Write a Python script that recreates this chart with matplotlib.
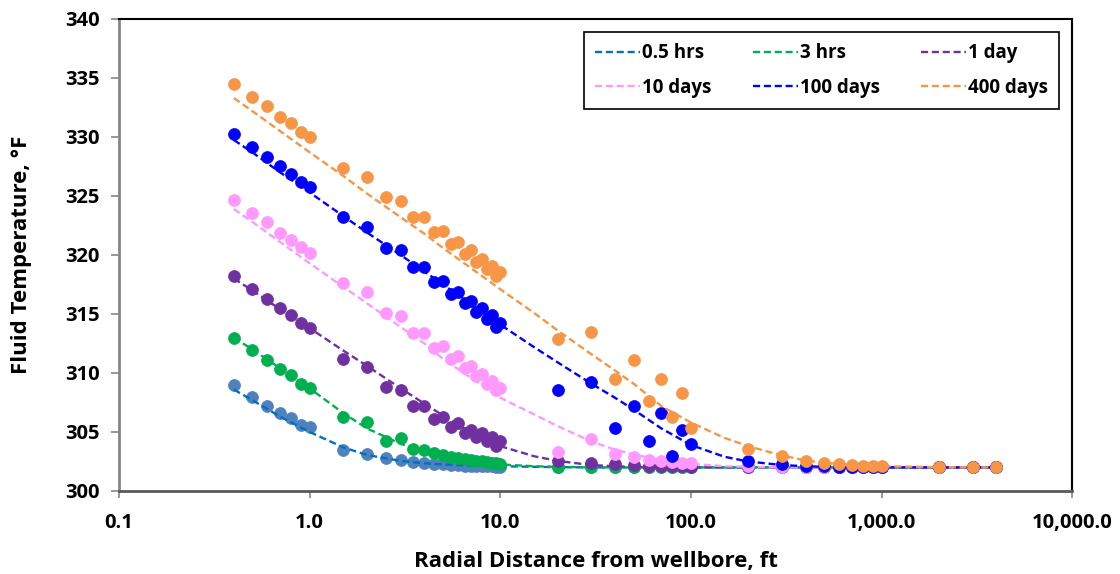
import matplotlib
matplotlib.use('Agg')
import matplotlib.pyplot as plt
from matplotlib.ticker import FixedLocator, FixedFormatter, NullLocator

plt.rcParams['font.family'] = ['Open Sans', 'DejaVu Sans']
plt.rcParams['font.weight'] = 'bold'

# Radial distance of measured points, ft
r = [0.4, 0.5, 0.6, 0.7, 0.8, 0.9, 1.0,
     1.5, 2.0, 2.5, 3.0, 3.5, 4.0, 4.5, 5.0, 5.5, 6.0, 6.5, 7.0, 7.5, 8.0, 8.5, 9.0, 9.5, 10.0,
     20, 30, 40, 50, 60, 70, 80, 90, 100,
     200, 300, 400, 500, 600, 700, 800, 900, 1000,
     2000, 3000, 4000]

# Measured fluid temperature, F
t_05h = [309.0, 307.95, 307.2, 306.6, 306.15, 305.6, 305.4,
         303.5, 303.1, 302.8, 302.6, 302.45, 302.35, 302.3, 302.25, 302.2, 302.18, 302.15, 302.13, 302.12,
         302.1, 302.1, 302.08, 302.07, 302.06,
         302.02, 302.01, 302.0, 302.0, 302.0, 302.0, 302.0, 302.0, 302.0,
         302.0, 302.0, 302.0, 302.0, 302.0, 302.0, 302.0, 302.0, 302.0,
         302.0, 302.0, 302.0]
t_3h = [313.0, 311.95, 311.1, 310.3, 309.8, 309.1, 308.7,
        306.3, 305.85, 304.25, 304.5, 303.6, 303.5, 303.2, 303.05, 302.9, 302.8, 302.7, 302.62, 302.55,
        302.5, 302.45, 302.4, 302.37, 302.33,
        302.05, 302.02, 302.0, 302.0, 302.0, 302.0, 302.0, 302.0, 302.0,
        302.0, 302.0, 302.0, 302.0, 302.0, 302.0, 302.0, 302.0, 302.0,
        302.0, 302.0, 302.0]
t_1d = [318.2, 317.1, 316.3, 315.5, 314.9, 314.2, 313.8,
        311.2, 310.5, 308.8, 308.6, 307.2, 307.2, 306.1, 306.3, 305.45, 305.8, 304.9, 305.2, 304.6,
        304.95, 304.2, 304.55, 303.8, 304.2,
        302.57, 302.35, 302.25, 302.2, 302.15, 302.12, 302.1, 302.08, 302.06,
        302.02, 302.0, 302.0, 302.0, 302.0, 302.0, 302.0, 302.0, 302.0,
        302.0, 302.0, 302.0]
t_10d = [324.7, 323.6, 322.8, 321.9, 321.3, 320.65, 320.2,
         317.6, 316.9, 315.05, 314.8, 313.4, 313.4, 312.15, 312.3, 311.2, 311.4, 310.45, 310.6, 309.75,
         309.9, 309.1, 309.3, 308.55, 308.7,
         303.3, 304.4, 303.1, 302.9, 302.65, 302.55, 302.45, 302.4, 302.35,
         302.1, 302.05, 302.03, 302.0, 302.0, 302.0, 302.0, 302.0, 302.0,
         302.0, 302.0, 302.0]
t_100d = [330.25, 329.15, 328.3, 327.5, 326.9, 326.2, 325.8,
          323.2, 322.4, 320.6, 320.4, 318.95, 319.0, 317.7, 317.8, 316.7, 316.9, 315.9, 316.1, 315.2,
          315.5, 314.55, 314.9, 313.9, 314.2,
          308.6, 309.25, 305.3, 307.2, 304.2, 306.6, 303.0, 305.2, 304.0,
          302.55, 302.25, 302.15, 302.1, 302.07, 302.05, 302.04, 302.03, 302.02,
          302.0, 302.0, 302.0]
t_400d = [334.5, 333.4, 332.6, 331.7, 331.2, 330.4, 330.0,
          327.4, 326.6, 324.9, 324.6, 323.2, 323.2, 321.95, 322.05, 320.9, 321.1, 320.1, 320.4, 319.4,
          319.7, 318.8, 319.1, 318.2, 318.6,
          312.85, 313.5, 309.5, 311.1, 307.6, 309.45, 306.25, 308.3, 305.3,
          303.6, 302.97, 302.57, 302.4, 302.3, 302.22, 302.15, 302.1, 302.08,
          302.02, 302.0, 302.0]

# Model curves (dashed lines)
r_fit = [0.4, 0.5, 0.7, 1, 1.5, 2, 3, 4, 5, 7, 10, 15, 20, 30, 40, 50, 70,
         100, 150, 200, 300, 400, 500, 700, 1000, 2000, 4000]
f_05h = [308.6, 307.7, 306.3, 305.0, 303.7, 303.05, 302.55, 302.35, 302.25, 302.15, 302.1, 302.05,
         302.02, 302.0, 302.0, 302.0, 302.0, 302.0, 302.0, 302.0, 302.0, 302.0, 302.0, 302.0, 302.0,
         302.0, 302.0]
f_3h = [313.0, 312.0, 310.4, 308.7, 306.6, 305.3, 304.0, 303.3, 302.9, 302.5, 302.25, 302.1,
        302.05, 302.0, 302.0, 302.0, 302.0, 302.0, 302.0, 302.0, 302.0, 302.0, 302.0, 302.0, 302.0,
        302.0, 302.0]
f_1d = [318.0, 317.0, 315.4, 313.8, 311.9, 310.6, 308.7, 307.4, 306.4, 305.0, 303.8, 302.95,
        302.55, 302.2, 302.1, 302.05, 302.0, 302.0, 302.0, 302.0, 302.0, 302.0, 302.0, 302.0, 302.0,
        302.0, 302.0]
f_10d = [323.9, 322.8, 321.1, 319.3, 317.3, 315.9, 313.9, 312.5, 311.2, 309.6, 307.9, 306.5,
         305.5, 304.2, 303.5, 303.1, 302.6, 302.3, 302.1, 302.05, 302.0, 302.0, 302.0, 302.0, 302.0,
         302.0, 302.0]
f_100d = [329.75, 328.7, 327.0, 325.3, 323.3, 321.9, 320.0, 318.6, 317.5, 315.9, 314.1, 312.2,
          310.9, 309.1, 307.9, 306.9, 305.3, 303.9, 302.9, 302.5, 302.2, 302.1, 302.05, 302.02, 302.0,
          302.0, 302.0]
f_400d = [333.3, 332.2, 330.5, 328.7, 326.7, 325.2, 323.2, 321.8, 320.6, 318.9, 317.1, 315.1,
          313.6, 311.6, 310.2, 309.1, 307.2, 305.8, 304.5, 303.8, 303.0, 302.6, 302.4, 302.2, 302.1,
          302.02, 302.0]

labels = ['0.5 hrs', '3 hrs', '1 day', '10 days', '100 days', '400 days']
point_colors = ['#4F81BD', '#00B050', '#7030A0', '#FF99FF', '#0000FF', '#F79646']
line_colors = ['#0070C0', '#00B050', '#7030A0', '#FF99FF', '#0000FF', '#F79646']
measured = [t_05h, t_3h, t_1d, t_10d, t_100d, t_400d]
fitted = [f_05h, f_3h, f_1d, f_10d, f_100d, f_400d]

fig = plt.figure(figsize=(11.2, 5.74), dpi=100)
ax = fig.add_axes([0.1063, 0.1446, 0.851, 0.8223])

handles = []
for lab, pc, lc, ym, yf in zip(labels, point_colors, line_colors, measured, fitted):
    ax.plot(r, ym, 'o', color=pc, markersize=8.6, markeredgewidth=0.5,
            markeredgecolor=pc, linestyle='none')
    ln, = ax.plot(r_fit, yf, color=lc, linewidth=1.7, dashes=(3, 1.6), label=lab)
    handles.append(ln)

ax.set_xscale('log')
ax.set_xlim(0.1, 10000)
ax.set_ylim(300, 340)
ax.xaxis.set_major_locator(FixedLocator([0.1, 1, 10, 100, 1000, 10000]))
ax.xaxis.set_major_formatter(FixedFormatter(['0.1', '1.0', '10.0', '100.0', '1,000.0', '10,000.0']))
ax.xaxis.set_minor_locator(NullLocator())
ax.set_yticks(range(300, 341, 5))

for s in ['top', 'right']:
    ax.spines[s].set_color('black')
    ax.spines[s].set_linewidth(1.5)
ax.spines['left'].set_color('#868686')
ax.spines['left'].set_linewidth(2)
ax.spines['bottom'].set_color('#595959')
ax.spines['bottom'].set_linewidth(2)

ax.tick_params(axis='y', direction='out', length=6, width=1.2, color='#868686',
               labelsize=14.5, pad=8)
ax.tick_params(axis='x', direction='out', length=5, width=1.2, color='#868686',
               labelsize=14.5, pad=11)

ax.set_xlabel('Radial Distance from wellbore, ft', fontsize=16, fontweight='bold', labelpad=13)
ax.set_ylabel('Fluid Temperature, °F', fontsize=16, fontweight='bold', labelpad=24)

# legend filled row by row: 0.5 hrs, 3 hrs, 1 day / 10 days, 100 days, 400 days
order = [0, 3, 1, 4, 2, 5]
leg = ax.legend(handles=[handles[i] for i in order], ncol=3, loc='upper left',
                bbox_to_anchor=(0.488, 0.803, 0.498, 0.169), mode='expand',
                fontsize=13.5, frameon=True, fancybox=False, edgecolor='black',
                handlelength=2.4, handletextpad=0.1, labelspacing=0.75,
                borderaxespad=0, borderpad=0.6)
leg.get_frame().set_linewidth(1.2)
leg.get_frame().set_facecolor('white')
leg.get_frame().set_alpha(1)

fig.savefig('out.png', dpi=100)
